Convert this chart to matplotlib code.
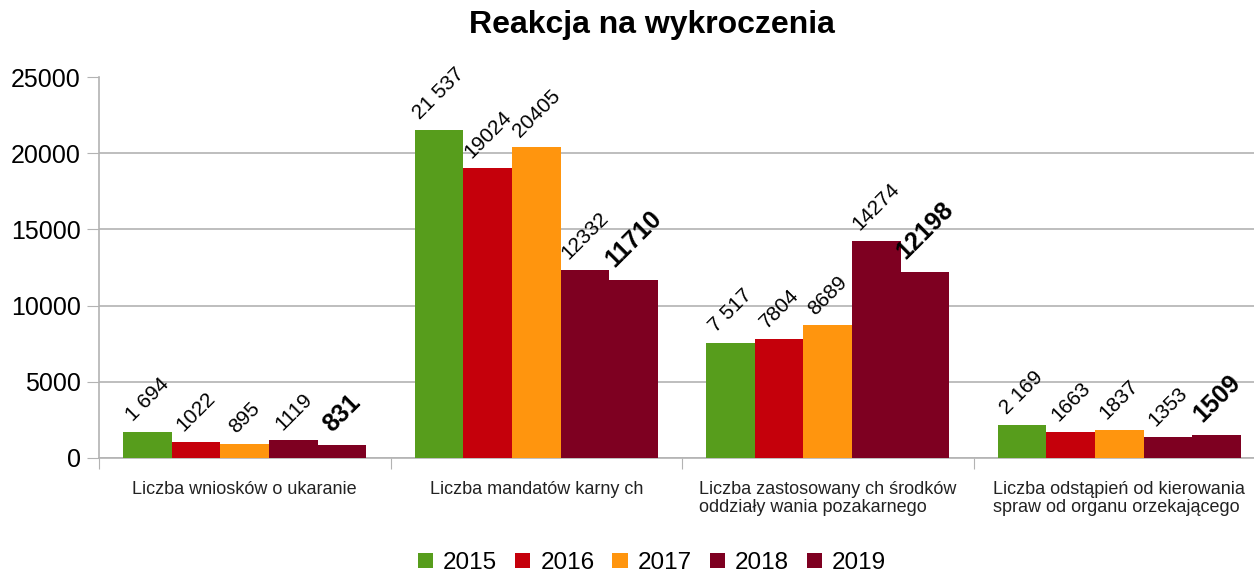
import matplotlib.pyplot as plt
import numpy as np

plt.rcParams['font.family'] = ['Liberation Sans', 'DejaVu Sans']

# Data
categories = ['Liczba wniosków o ukaranie',
              'Liczba mandatów karny ch',
              'Liczba zastosowany ch środków\noddziały wania pozakarnego',
              'Liczba odstąpień od kierowania\nspraw od organu orzekającego']
years = ['2015', '2016', '2017', '2018', '2019']
values = {
    '2015': [1694, 21537, 7517, 2169],
    '2016': [1022, 19024, 7804, 1663],
    '2017': [895, 20405, 8689, 1837],
    '2018': [1119, 12332, 14274, 1353],
    '2019': [831, 11710, 12198, 1509],
}
labels = {
    '2015': ['1 694', '21 537', '7 517', '2 169'],
    '2016': ['1022', '19024', '7804', '1663'],
    '2017': ['895', '20405', '8689', '1837'],
    '2018': ['1119', '12332', '14274', '1353'],
    '2019': ['831', '11710', '12198', '1509'],
}
colors = ['#579d1c', '#c5000b', '#ff950e', '#7e0021', '#7e0021']

fig = plt.figure(figsize=(12.54, 5.73), dpi=100)
ax = fig.add_axes([99 / 1254, 1 - 457.5 / 573, 1166 / 1254, 380 / 573])

x = np.arange(len(categories))
width = 0.167
for i, year in enumerate(years):
    pos = x - 2 * width + i * width
    ax.bar(pos, values[year], width, color=colors[i], label=year, zorder=3)
    bold = year == '2019'
    for px, v, lab in zip(pos, values[year], labels[year]):
        ax.annotate(lab, (px, v), xytext=(0, 6 if bold else 5),
                    textcoords='offset points',
                    ha='center', va='bottom', rotation=45,
                    fontsize=18 if bold else 15,
                    fontweight='bold' if bold else 'normal', color='black',
                    zorder=4)

ax.set_xlim(-0.5, 3.5)
ax.set_ylim(0, 25000)
ax.set_yticks(range(0, 25001, 5000))
ax.tick_params(axis='y', labelsize=18, length=9, color='#b3b3b3', pad=4)
ax.yaxis.grid(True, color='#b3b3b3', linewidth=1.2, zorder=0)

# group boundary ticks and category labels
ax.set_xticks(np.arange(-0.5, 4, 1))
ax.set_xticklabels([])
ax.tick_params(axis='x', which='major', length=8, color='#b3b3b3')
ax.set_xticks(x, minor=True)
ax.set_xticklabels(categories, minor=True, fontsize=13, color='#222222',
                   multialignment='left', linespacing=1.1)
ax.tick_params(axis='x', which='minor', length=0, pad=17)

for s in ['top', 'right']:
    ax.spines[s].set_visible(False)
ax.spines['left'].set_color('#b3b3b3')
ax.spines['bottom'].set_color('#b3b3b3')
ax.spines['left'].set_linewidth(1.2)
ax.spines['bottom'].set_linewidth(1.2)

fig.suptitle('Reakcja na wykroczenia', fontsize=23, fontweight='bold',
             x=652 / 1254, y=1 - 10 / 573, va='top')

fig.legend(loc='center', bbox_to_anchor=(652 / 1254, 1 - 563 / 573), ncol=5,
           fontsize=17.5, frameon=False, handlelength=0.62, handleheight=0.62,
           handletextpad=0.41, columnspacing=0.74, borderaxespad=0)

fig.savefig('out.png', dpi=100)
